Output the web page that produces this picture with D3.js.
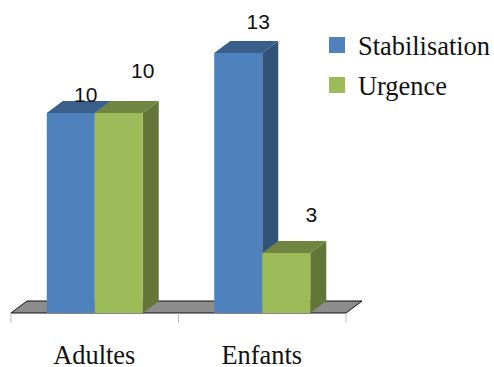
<!DOCTYPE html>
<html>
<head>
<meta charset="utf-8">
<script src="https://cdn.jsdelivr.net/npm/d3@7/dist/d3.min.js"></script>
<style>
html,body{margin:0;padding:0;background:#fff}
svg{display:block}
</style>
</head>
<body>
<svg id="chart" width="494" height="367"></svg>
<script>
const categories = ["Adultes", "Enfants"];
const seriesNames = ["Stabilisation", "Urgence"];
const stabilisation = [10, 13];
const urgence = [10, 3];

const seriesValues = [stabilisation, urgence];
const palette = [
  {front: "#4f81bd", top: "#3a5f8b", side: "#325278"},
  {front: "#9bbb59", top: "#6f8540", side: "#647637"}
];
// Value label displacement from each bar's front-top centre: [series][category]
const labelShift = [
  [[15, -11], [20, -24]],
  [[24, -35], [25, -31]]
];

const W = 494, H = 367;
const baseY = 313, plotTop = 53;
const depthX = 16, depthY = -12;
const barW = 48;

const svg = d3.select("#chart");
const x = d3.scaleBand().domain(categories).range([11, 346]);
const y = d3.scaleLinear().domain([0, 13]).range([baseY, plotTop]);
const inner = d3.scaleBand().domain(d3.range(seriesNames.length));

const poly = pts => d3.line()(pts) + "Z";

// Floor of the 3D plot
svg.append("path")
  .attr("d", poly([[x.range()[0], baseY], [x.range()[1], baseY],
                   [x.range()[1] + depthX, baseY + depthY], [x.range()[0] + depthX, baseY + depthY]]))
  .attr("fill", "#8c8c8c").attr("stroke", "#111").attr("stroke-width", 1);

// Category axis ticks
const axisTicks = [...categories.map(c => x(c)), x.range()[1]];
svg.append("g").selectAll("line").data(axisTicks).join("line")
  .attr("x1", d => d).attr("x2", d => d)
  .attr("y1", baseY).attr("y2", baseY + 10)
  .attr("stroke", "#bcbcbc").attr("stroke-width", 1);

// Bars: each one is a front face, a top face and a side face
categories.forEach((cat, ci) => {
  const cx = x(cat) + x.bandwidth() / 2;
  inner.range([cx - barW, cx + barW]);
  seriesValues.forEach((vals, si) => {
    const v = vals[ci];
    const x0 = inner(si), x1 = x0 + inner.bandwidth();
    const yT = y(v), c = palette[si];
    const g = svg.append("g");
    g.append("path").attr("fill", c.side)
      .attr("d", poly([[x1, yT], [x1 + depthX, yT + depthY], [x1 + depthX, baseY + depthY], [x1, baseY]]));
    g.append("path").attr("fill", c.top)
      .attr("d", poly([[x0, yT], [x1, yT], [x1 + depthX, yT + depthY], [x0 + depthX, yT + depthY]]));
    g.append("rect").attr("fill", c.front)
      .attr("x", x0).attr("y", yT).attr("width", x1 - x0).attr("height", baseY - yT);
  });
});

// Value labels
categories.forEach((cat, ci) => {
  const cx = x(cat) + x.bandwidth() / 2;
  inner.range([cx - barW, cx + barW]);
  seriesValues.forEach((vals, si) => {
    const [dx, dy] = labelShift[si][ci];
    svg.append("text")
      .attr("x", inner(si) + inner.bandwidth() / 2 + dx)
      .attr("y", y(vals[ci]) + dy)
      .attr("text-anchor", "middle")
      .attr("font-family", "'Liberation Sans', sans-serif")
      .attr("font-size", 21).attr("fill", "#111")
      .text(vals[ci]);
  });
});

// Category labels
svg.append("g").selectAll("text").data(categories).join("text")
  .attr("x", d => x(d) + x.bandwidth() / 2 - 0.5)
  .attr("y", 364)
  .attr("text-anchor", "middle")
  .attr("font-family", "'Liberation Serif', serif")
  .attr("font-size", 26.4).attr("fill", "#111")
  .text(d => d);

// Legend
const legend = svg.append("g").selectAll("g").data(seriesNames).join("g")
  .attr("transform", (d, i) => `translate(329,${37 + i * 40})`);
legend.append("rect").attr("width", 16).attr("height", 16)
  .attr("fill", (d, i) => palette[i].front);
legend.append("text").attr("x", 29).attr("y", 18)
  .attr("font-family", "'Liberation Serif', serif")
  .attr("font-size", 26.4).attr("fill", "#111")
  .text(d => d);
</script>
</body>
</html>
